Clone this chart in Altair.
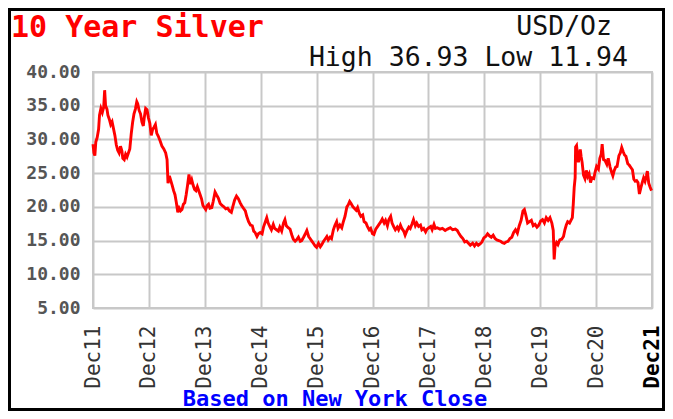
import altair as alt
import pandas as pd

# ---- data (months since Dec 2011, USD/oz) ----
months = [
    0.0, 0.2, 0.4, 0.6, 0.9, 1.2, 1.4, 1.7, 2.0, 2.3, 2.5, 2.7, 3.0, 3.2, 3.5, 3.8, 4.1, 4.4, 4.7, 5.0,
    5.3, 5.6, 5.9, 6.2, 6.4, 6.7, 7.0, 7.3, 7.6, 7.9, 8.2, 8.5, 8.8, 9.1, 9.4, 9.6, 9.9, 10.2, 10.5, 10.8,
    11.0, 11.3, 11.6, 11.9, 12.2, 12.5, 12.8, 13.1, 13.4, 13.7, 14.0, 14.4, 14.8, 15.2, 15.6, 15.9, 16.1, 16.4, 16.7, 17.0,
    17.3, 17.6, 17.9, 18.2, 18.5, 18.8, 19.1, 19.4, 19.7, 20.0, 20.3, 20.6, 20.9, 21.2, 21.5, 21.8, 22.1, 22.4, 22.7, 23.0,
    23.3, 23.6, 23.9, 24.2, 24.5, 24.8, 25.1, 25.5, 25.8, 26.2, 26.5, 26.9, 27.3, 27.7, 28.1, 28.5, 28.9, 29.3, 29.7, 30.0,
    30.4, 30.8, 31.2, 31.6, 31.9, 32.3, 32.7, 33.0, 33.4, 33.8, 34.2, 34.5, 34.8, 35.2, 35.5, 35.9, 36.3, 36.6, 37.0, 37.3,
    37.6, 38.0, 38.3, 38.7, 39.0, 39.4, 39.8, 40.1, 40.5, 40.9, 41.2, 41.5, 41.9, 42.3, 42.7, 43.0, 43.4, 43.7, 44.1, 44.5,
    44.8, 45.2, 45.5, 45.9, 46.3, 46.6, 46.9, 47.3, 47.7, 48.0, 48.4, 48.8, 49.1, 49.5, 49.8, 50.2, 50.5, 50.9, 51.2, 51.6,
    51.9, 52.3, 52.6, 53.0, 53.4, 53.7, 54.1, 54.5, 54.8, 55.1, 55.4, 55.8, 56.1, 56.5, 56.8, 57.2, 57.5, 57.9, 58.2, 58.6,
    58.9, 59.3, 59.6, 60.0, 60.3, 60.7, 61.0, 61.4, 61.8, 62.1, 62.5, 62.8, 63.2, 63.5, 63.9, 64.2, 64.6, 64.9, 65.3, 65.6,
    66.0, 66.3, 66.7, 67.0, 67.4, 67.8, 68.1, 68.5, 68.8, 69.2, 69.5, 69.9, 70.3, 70.6, 71.0, 71.4, 71.7, 72.1, 72.5, 72.8,
    73.2, 73.5, 73.9, 74.5, 75.0, 75.6, 76.1, 76.7, 77.2, 77.8, 78.2, 78.6, 79.0, 79.4, 79.8, 80.2, 80.6, 81.0, 81.5, 81.9,
    82.3, 82.7, 83.1, 83.5, 83.9, 84.3, 84.7, 85.1, 85.5, 85.9, 86.3, 86.7, 87.1, 87.5, 87.9, 88.3, 88.7, 89.1, 89.5, 89.9,
    90.3, 90.7, 91.1, 91.5, 91.9, 92.3, 92.6, 92.9, 93.3, 93.7, 94.1, 94.5, 94.9, 95.3, 95.7, 96.1, 96.5, 96.9, 97.3, 97.7,
    98.1, 98.5, 98.8, 99.0, 99.2, 99.5, 99.8, 100.2, 100.6, 101.0, 101.3, 101.6, 101.9, 102.3, 102.6, 102.9, 103.1, 103.3, 103.5, 103.6,
    103.8, 104.0, 104.2, 104.4, 104.6, 104.8, 105.0, 105.3, 105.6, 105.9, 106.2, 106.5, 106.8, 107.1, 107.5, 107.8, 108.1, 108.5, 108.8, 109.1,
    109.3, 109.6, 109.9, 110.3, 110.6, 111.0, 111.3, 111.6, 111.9, 112.2, 112.5, 112.9, 113.2, 113.5, 113.8, 114.1, 114.4, 114.8, 115.1, 115.5,
    115.8, 116.1, 116.4, 116.7, 117.0, 117.3, 117.6, 117.9, 118.2, 118.5, 118.8, 119.0, 119.3, 119.6, 119.9,
]
prices = [
    29.3, 28.0, 27.6, 29.6, 30.3, 31.5, 33.6, 34.6, 34.0, 34.8, 37.3, 35.0, 34.5, 33.6, 33.0, 32.2, 32.6, 31.6, 30.6, 29.2,
    28.4, 28.0, 29.0, 28.3, 27.2, 27.0, 27.8, 27.4, 28.0, 28.6, 30.8, 32.5, 33.8, 34.5, 35.6, 35.3, 34.3, 33.8, 32.6, 32.0,
    33.2, 34.6, 34.4, 33.2, 32.4, 30.6, 31.5, 31.8, 32.2, 30.9, 30.5, 29.8, 29.0, 28.6, 28.0, 27.0, 23.5, 24.6, 23.9, 23.2,
    22.4, 21.8, 20.6, 19.2, 19.8, 19.4, 19.6, 20.4, 20.6, 21.8, 23.2, 24.8, 23.4, 24.0, 23.2, 22.6, 22.4, 23.0, 22.4, 21.8,
    21.2, 20.2, 19.9, 19.6, 20.2, 20.4, 19.8, 19.9, 20.8, 22.2, 21.8, 21.3, 20.5, 20.2, 20.0, 19.7, 19.8, 19.4, 19.2, 20.0,
    21.0, 21.6, 21.2, 20.6, 20.2, 19.8, 19.4, 18.6, 17.8, 17.3, 17.2, 16.4, 16.2, 15.6, 16.0, 16.2, 16.0, 17.0, 17.8, 18.4,
    17.6, 17.0, 16.6, 17.4, 16.8, 16.6, 16.4, 17.0, 16.4, 17.6, 18.1, 17.2, 16.9, 16.7, 15.8, 15.2, 14.9, 15.1, 15.5, 14.9,
    15.0, 15.5, 15.9, 16.5, 15.6, 15.3, 15.0, 14.6, 14.2, 14.0, 14.6, 14.1, 14.4, 14.9, 15.2, 15.6, 15.1, 15.5, 15.3, 16.6,
    17.2, 17.8, 16.8, 17.3, 16.9, 17.7, 18.6, 20.0, 20.3, 20.8, 20.5, 20.0, 19.8, 19.5, 19.9, 19.0, 18.6, 18.8, 17.8, 17.6,
    17.1, 16.6, 16.8, 16.0, 15.9, 16.7, 17.0, 17.4, 17.8, 18.2, 17.6, 18.0, 17.2, 18.1, 18.6, 17.6, 17.0, 16.6, 17.0, 16.6,
    17.3, 16.8, 16.4, 15.8, 16.5, 17.0, 16.8, 17.5, 18.1, 17.2, 17.6, 17.1, 17.3, 16.6, 16.8, 16.3, 16.7, 16.9, 17.1, 16.6,
    17.4, 16.8, 16.9, 16.7, 16.8, 16.5, 16.7, 16.9, 16.6, 16.7, 16.5, 16.0, 15.6, 15.3, 14.8, 14.9, 14.6, 14.3, 14.6, 14.2,
    14.6, 14.3, 14.5, 14.8, 15.4, 15.6, 16.0, 15.7, 15.5, 15.8, 15.3, 15.1, 15.0, 14.9, 14.7, 14.6, 14.8, 14.9, 15.3, 15.5,
    16.2, 16.6, 16.1, 17.2, 18.0, 19.4, 19.6, 18.8, 17.6, 17.8, 18.0, 17.2, 17.4, 17.0, 17.3, 17.9, 18.1, 17.6, 18.4, 18.0,
    18.4, 17.6, 16.5, 12.2, 14.2, 14.7, 14.4, 15.1, 15.2, 15.6, 16.6, 17.3, 17.8, 17.6, 18.0, 18.4, 20.4, 22.9, 24.3, 28.9,
    29.1, 27.8, 26.6, 27.5, 28.5, 27.4, 26.6, 24.7, 24.2, 25.4, 24.5, 24.9, 23.6, 24.3, 24.2, 25.2, 26.0, 25.6, 27.2, 27.8,
    29.3, 27.0, 26.9, 26.3, 27.2, 25.9, 25.2, 24.6, 25.4, 25.9, 26.0, 27.6, 28.0, 28.8, 28.2, 27.7, 27.5, 26.4, 26.2, 25.8,
    25.5, 24.1, 23.8, 23.9, 23.6, 21.9, 22.8, 23.6, 24.3, 23.8, 24.6, 25.3, 23.5, 22.9, 22.4,
]

tick_months = [0, 12, 24, 36, 48, 60, 72, 84, 96, 108, 120]
tick_labels = ["Dec11", "Dec12", "Dec13", "Dec14", "Dec15", "Dec16",
               "Dec17", "Dec18", "Dec19", "Dec20", "Dec21"]
y_ticks = [5, 10, 15, 20, 25, 30, 35, 40]

title_text = ["10 Year Silver"]
unit_text = ["USD/Oz"]
hilo_text = ["High 36.93 Low 11.94"]
source_text = ["Based on New York Close"]

W, H = 559, 236
MONO = "DejaVu Sans Mono"

df = pd.DataFrame({"m": months, "p": prices})

label_expr = "[" + ",".join(f"'{s}'" for s in tick_labels) + "][round(datum.value / 12)]"

line = alt.Chart(df).mark_line(color="#ff0000", strokeWidth=2.9).encode(
    x=alt.X(
        "m:Q",
        scale=alt.Scale(domain=[0, 120], nice=False, zero=False),
        axis=alt.Axis(
            values=tick_months, labelExpr=label_expr, title=None,
            labelAngle=-90, labelAlign="right", labelBaseline="middle",
            labelFont=MONO, labelFontSize=21,
            labelFontWeight={"condition": {"test": "datum.value == 120", "value": "bold"}, "value": "normal"},
            labelColor={"condition": {"test": "datum.value == 120", "value": "#000000"}, "value": "#333333"},
            labelPadding=17, ticks=False, tickSize=0, domain=False,
            grid=True, gridColor="#c8c8c8", gridWidth=2, labelOverlap=False,
        ),
    ),
    y=alt.Y(
        "p:Q",
        scale=alt.Scale(domain=[5, 40], nice=False, zero=False),
        axis=alt.Axis(
            values=y_ticks, format=".2f", title=None,
            labelFont=MONO, labelFontSize=18, labelFontWeight="bold", labelColor="#555555",
            labelPadding=13, ticks=False, tickSize=0, domain=False,
            grid=True, gridColor="#c8c8c8", gridWidth=2, labelOverlap=False,
        ),
    ),
)


def text_layer(values, x, y, size, color, weight, align):
    return alt.Chart(pd.DataFrame({"t": values})).mark_text(
        font=MONO, fontSize=size, color=color, fontWeight=weight,
        align=align, baseline="alphabetic",
    ).encode(x=alt.value(x), y=alt.value(y), text="t:N")


title = text_layer(title_text, -82, -35.5, 30, "#ff0000", "bold", "left")
unit = text_layer(unit_text, 519, -37, 26.5, "#111111", "normal", "right")
hilo = text_layer(hilo_text, 535, -6, 26.5, "#111111", "normal", "right")
source = text_layer(source_text, 242, 334, 22, "#0000ff", "bold", "center")

frame = alt.Chart(pd.DataFrame({"a": [0]})).mark_rect(
    fillOpacity=0, stroke="#000000", strokeWidth=3
).encode(
    x=alt.value(-83.5), x2=alt.value(570.5), y=alt.value(-62.5), y2=alt.value(337.5)
)

chart = alt.layer(line, title, unit, hilo, source, frame).properties(
    width=W, height=H,
    padding={"left": 85, "top": 64, "right": 13, "bottom": 103},
    autosize=alt.AutoSizeParams(type="none"),
    background="#ffffff",
).configure_view(stroke="#c8c8c8", strokeWidth=2)

chart.save("out.html", embed_options={"renderer": "svg", "actions": False})
